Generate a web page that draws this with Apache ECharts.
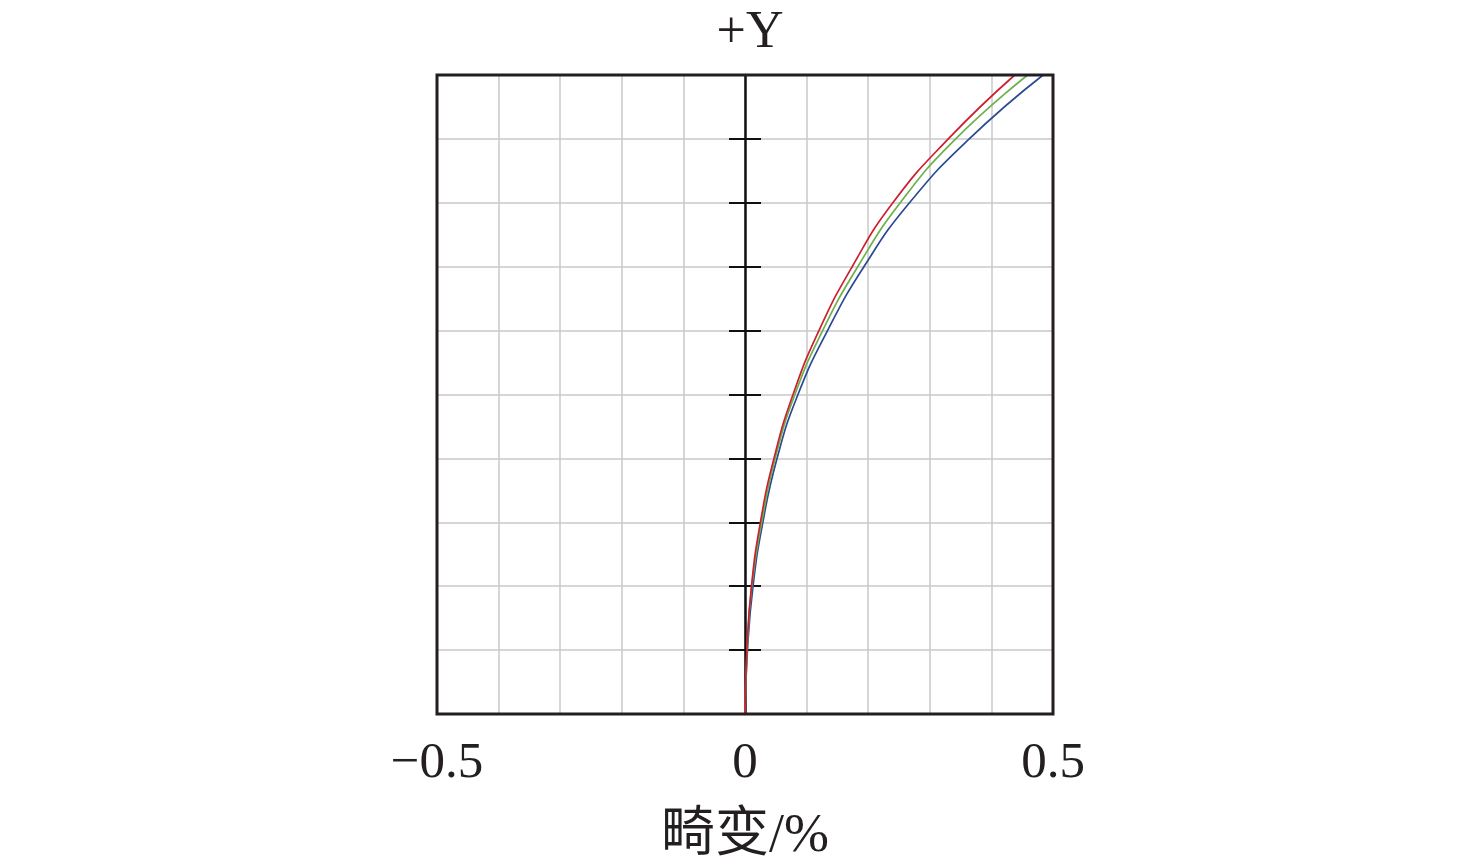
<!DOCTYPE html>
<html>
<head>
<meta charset="utf-8">
<script src="https://cdn.jsdelivr.net/npm/echarts@6/dist/echarts.min.js"></script>
<style>
html,body{margin:0;padding:0;background:#fff;}
#chart{width:1476px;height:867px;}
</style>
</head>
<body>
<div id="chart"></div>
<script>
// Normalized field (+Y), 0..1
const fieldValues = [0, 0.1, 0.2, 0.3, 0.4, 0.5, 0.6, 0.7, 0.8, 0.9, 1.0];
// Distortion (%) for three wavelengths
const redDistortion   = [0, 0.003, 0.0105, 0.025, 0.047, 0.078, 0.120, 0.174, 0.240, 0.330, 0.438];
const greenDistortion = [0, 0.0035, 0.011, 0.027, 0.049, 0.081, 0.126, 0.183, 0.252, 0.342, 0.459];
const blueDistortion  = [0, 0.004, 0.013, 0.029, 0.052, 0.086, 0.134, 0.193, 0.267, 0.364, 0.484];
const xTickValues = [-0.5, 0, 0.5];
const xTickLabels = ['\u22120.5', '0', '0.5'];
const titleText = '+Y';
const xAxisName = '畸变/%';

function pairs(xs) { return xs.map((x, i) => [x, fieldValues[i]]); }

const serif = '"Liberation Serif", "Noto Sans CJK SC", serif';
const textColor = '#231f20';
const gridW = 616;

const chart = echarts.init(document.getElementById('chart'), null, {renderer: 'canvas'});
chart.setOption({
  animation: false,
  backgroundColor: '#ffffff',
  title: {
    text: titleText,
    left: 745, top: 2, textAlign: 'center',
    textStyle: {fontFamily: serif, fontSize: 52, fontWeight: 'normal', color: textColor}
  },
  grid: {
    left: 437, top: 75, width: gridW, height: 639,
    outerBoundsMode: 'none', containLabel: false,
    show: true, borderColor: '#231f20', borderWidth: 3, backgroundColor: 'transparent', z: 10
  },
  xAxis: {
    type: 'value', min: -0.5, max: 0.5, interval: 0.1,
    name: xAxisName, nameLocation: 'middle', nameGap: 96,
    nameTextStyle: {fontFamily: serif, fontSize: 54, color: textColor},
    axisLine: {show: false, onZero: false},
    axisTick: {show: false},
    splitLine: {show: true, lineStyle: {color: '#c8c8c8', width: 1.5}},
    axisLabel: {
      margin: 24, fontFamily: serif, fontSize: 51, color: textColor,
      formatter: function (v) {
        for (let i = 0; i < xTickValues.length; i++) {
          if (Math.abs(v - xTickValues[i]) < 1e-9) return xTickLabels[i];
        }
        return '';
      }
    }
  },
  yAxis: [{
    type: 'value', min: 0, max: 1, interval: 0.1,
    axisLine: {show: true, onZero: true, lineStyle: {color: '#111', width: 2.5}},
    axisTick: {show: true, inside: false, length: 16, lineStyle: {color: '#111', width: 2}},
    axisLabel: {show: false},
    splitLine: {show: true, lineStyle: {color: '#c8c8c8', width: 1.5}}
  }, {
    type: 'value', min: 0, max: 1, interval: 0.1, position: 'right', offset: -gridW / 2,
    axisLine: {show: false, onZero: false},
    axisTick: {show: true, inside: false, length: 16, lineStyle: {color: '#111', width: 2}},
    axisLabel: {show: false},
    splitLine: {show: false}
  }],
  series: [
    {type: 'line', name: 'blue', data: pairs(blueDistortion), smooth: 0.5, showSymbol: false,
     lineStyle: {color: '#2b4a94', width: 1.7}, z: 3},
    {type: 'line', name: 'green', data: pairs(greenDistortion), smooth: 0.5, showSymbol: false,
     lineStyle: {color: '#6cb04a', width: 1.7}, z: 4},
    {type: 'line', name: 'red', data: pairs(redDistortion), smooth: 0.5, showSymbol: false,
     lineStyle: {color: '#cc2030', width: 1.7}, z: 5}
  ]
});
</script>
</body>
</html>
